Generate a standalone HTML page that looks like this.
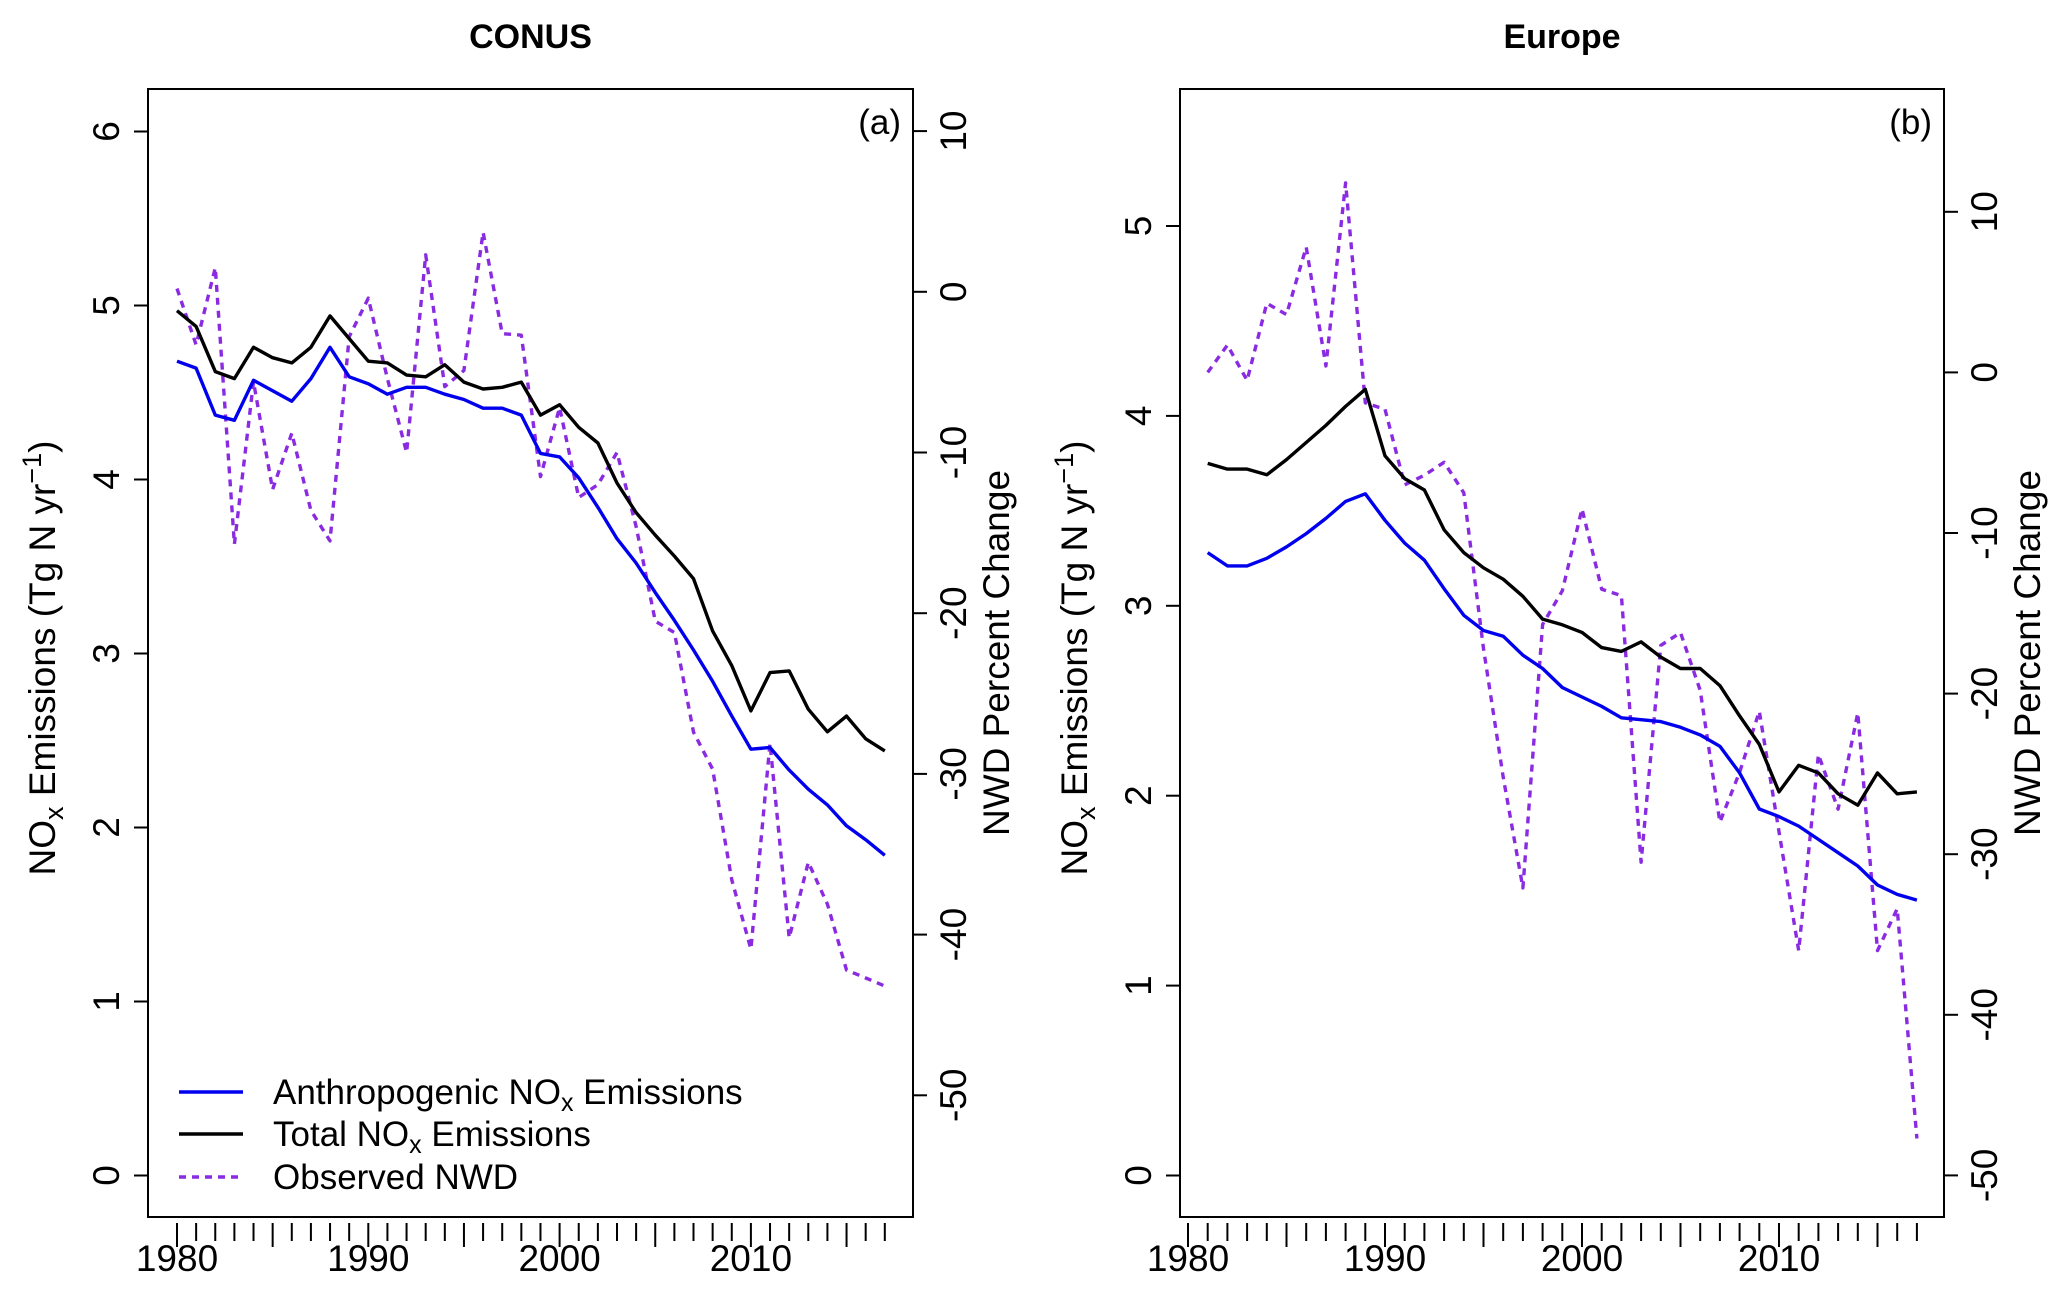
<!DOCTYPE html>
<html><head><meta charset="utf-8"><style>
body{margin:0;background:#fff}
svg text{font-family:"Liberation Sans",Arial,sans-serif;fill:#000}
</style></head><body>
<svg id="chart" width="2067" height="1289" xmlns="http://www.w3.org/2000/svg"></svg>
<script>
const conusYears=[1980,1981,1982,1983,1984,1985,1986,1987,1988,1989,1990,1991,1992,1993,1994,1995,1996,1997,1998,1999,2000,2001,2002,2003,2004,2005,2006,2007,2008,2009,2010,2011,2012,2013,2014,2015,2016,2017];
const conusAnthro=[4.68,4.64,4.37,4.34,4.57,4.51,4.45,4.58,4.76,4.59,4.55,4.49,4.53,4.53,4.49,4.46,4.41,4.41,4.37,4.15,4.13,4.01,3.84,3.66,3.52,3.35,3.19,3.02,2.84,2.64,2.45,2.46,2.33,2.22,2.13,2.01,1.93,1.84];
const conusTotal=[4.97,4.88,4.62,4.58,4.76,4.70,4.67,4.76,4.94,4.81,4.68,4.67,4.60,4.59,4.66,4.56,4.52,4.53,4.56,4.37,4.43,4.30,4.21,3.98,3.81,3.68,3.56,3.43,3.13,2.93,2.67,2.89,2.90,2.68,2.55,2.64,2.51,2.44];
const conusNWD=[0.2,-3.3,1.5,-15.7,-5.6,-12.3,-8.8,-13.6,-15.5,-2.8,-0.4,-5.4,-10,2.3,-5.9,-4.9,3.7,-2.6,-2.7,-11.5,-7.2,-12.8,-12,-10,-14.6,-20.5,-21.2,-27.4,-29.7,-36.6,-40.9,-28.1,-40.2,-35.5,-38.1,-42.2,-42.7,-43.2];
const euYears=[1981,1982,1983,1984,1985,1986,1987,1988,1989,1990,1991,1992,1993,1994,1995,1996,1997,1998,1999,2000,2001,2002,2003,2004,2005,2006,2007,2008,2009,2010,2011,2012,2013,2014,2015,2016,2017];
const euAnthro=[3.28,3.21,3.21,3.25,3.31,3.38,3.46,3.55,3.59,3.45,3.33,3.24,3.09,2.95,2.87,2.84,2.74,2.67,2.57,2.52,2.47,2.41,2.40,2.39,2.36,2.32,2.26,2.12,1.93,1.89,1.84,1.77,1.70,1.63,1.53,1.48,1.45];
const euTotal=[3.75,3.72,3.72,3.69,3.77,3.86,3.95,4.05,4.14,3.79,3.67,3.61,3.40,3.28,3.20,3.14,3.05,2.93,2.90,2.86,2.78,2.76,2.81,2.73,2.67,2.67,2.58,2.42,2.27,2.02,2.16,2.12,2.01,1.95,2.12,2.01,2.02];
const euNWD=[0,1.7,-0.5,4.3,3.6,7.8,0.4,11.8,-1.9,-2.3,-7,-6.4,-5.6,-7.5,-17.2,-25.2,-32.1,-15.7,-13.6,-8.5,-13.5,-13.9,-30.5,-17,-16.2,-19.8,-28,-24.9,-21.1,-28.6,-36,-23.8,-27.2,-21.2,-36,-33.4,-47.7];
const conusLeftTicks=[0,1,2,3,4,5,6];
const conusRightTicks=[-50,-40,-30,-20,-10,0,10];
const euLeftTicks=[0,1,2,3,4,5];
const euRightTicks=[-50,-40,-30,-20,-10,0,10];
const xTickLabels=[1980,1990,2000,2010];

const svg=document.getElementById('chart');
const NS='http://www.w3.org/2000/svg';
const BT=89,BB=1217;
function mk(tag,attrs,parent){const e=document.createElementNS(NS,tag);for(const k in attrs)e.setAttribute(k,attrs[k]);(parent||svg).appendChild(e);return e;}

function panel(p){
  const g=mk('g',{});
  
  
  const X=y=>p.x0+(y-1980)*p.xs;
  const YL=v=>p.yl0-v*p.yls;
  const YR=v=>p.yr0-v*p.yrs;
  const box=mk('rect',{x:p.bx,y:BT,width:p.bw,height:BB-BT,fill:'none',stroke:'#000','stroke-width':2},g);
  
  
  const t=mk('text',{x:p.bx+p.bw/2,y:48,'text-anchor':'middle','font-size':34,'font-weight':'bold'},g);t.textContent=p.title;
  
  
  const lab=mk('text',{x:p.bx+p.bw-12,y:134,'text-anchor':'end','font-size':35},g);lab.textContent=p.label;
  
  
  const la=mk('g',{},g);
  
  
  p.lt.forEach(v=>{const y=YL(v);mk('line',{x1:p.bx,x2:p.bx-14,y1:y,y2:y,stroke:'#000','stroke-width':2},la);
    const tx=mk('text',{x:0,y:0,'text-anchor':'middle','font-size':37,transform:`translate(${p.bx-29},${y}) rotate(-90)`},la);tx.textContent=v;});
  const lt=mk('text',{'text-anchor':'middle','font-size':37,transform:`translate(${p.bx-93},${(BT+BB)/2+5}) rotate(-90)`},la);
  lt.innerHTML='NO<tspan font-size="27" dy="8">x</tspan><tspan dy="-8"> Emissions (Tg N yr</tspan><tspan font-size="27" dy="-14">−1</tspan><tspan dy="14">)</tspan>';
  
  
  const ra=mk('g',{},g);
  
  
  const rx=p.bx+p.bw;
  p.rt.forEach(v=>{const y=YR(v);mk('line',{x1:rx,x2:rx+14,y1:y,y2:y,stroke:'#000','stroke-width':2},ra);
    const tx=mk('text',{'text-anchor':'middle','font-size':37,transform:`translate(${rx+53},${y}) rotate(-90)`},ra);tx.textContent=v;});
  const rt=mk('text',{'text-anchor':'middle','font-size':37,transform:`translate(${rx+96},${(BT+BB)/2}) rotate(-90)`},ra);rt.textContent='NWD Percent Change';
  
  
  const xa=mk('g',{},g);
  
  
  for(let yr=1980;yr<=2017;yr++){const x=X(yr);mk('line',{x1:x,x2:x,y1:BB+6,y2:yr%5===0?BB+30:BB+24,stroke:'#000','stroke-width':2},xa);}
  xTickLabels.forEach(v=>{const tx=mk('text',{x:X(v),y:1271,'text-anchor':'middle','font-size':37},xa);tx.textContent=v;});
  function line(years,vals,scale,color,dash,name){
    const pts=years.map((y,i)=>X(y).toFixed(1)+','+scale(vals[i]).toFixed(1)).join(' ');
    const pl=mk('polyline',{points:pts,fill:'none',stroke:color,'stroke-width':3.4,'stroke-linejoin':'round','stroke-dasharray':dash||'none'},g);
    
    
  }
  line(p.years,p.nwd,YR,'#8a2be2','7,6','observed-nwd-line');
  line(p.years,p.tot,YL,'#000',null,'total-nox-line');
  line(p.years,p.ant,YL,'#0000ee',null,'anthropogenic-nox-line');
}
panel({id:'conus',title:'CONUS',label:'(a)',bx:148,bw:765,x0:177,xs:19.13,yl0:1175.5,yls:174,yr0:291.8,yrs:16.07,lt:conusLeftTicks,rt:conusRightTicks,years:conusYears,ant:conusAnthro,tot:conusTotal,nwd:conusNWD});
panel({id:'europe',title:'Europe',label:'(b)',bx:1180,bw:764,x0:1188,xs:19.7,yl0:1175.5,yls:189.9,yr0:372.4,yrs:16.06,lt:euLeftTicks,rt:euRightTicks,years:euYears,ant:euAnthro,tot:euTotal,nwd:euNWD});

const lg=mk('g',{});


const legItems=[['#0000ee',null,'Anthropogenic NO','x',' Emissions',1092],['#000',null,'Total NO','x',' Emissions',1134],['#8a2be2','7,6','Observed NWD','','',1177]];
legItems.forEach(it=>{
  const e=mk('g',{},lg);
  
  
  mk('line',{x1:179,x2:243,y1:it[5],y2:it[5],stroke:it[0],'stroke-width':3.4,'stroke-dasharray':it[1]||'none'},e);
  const t=mk('text',{x:273,y:it[5]+12,'font-size':35},e);
  t.innerHTML=it[2]+(it[3]?'<tspan font-size="25" dy="7">'+it[3]+'</tspan><tspan dy="-7">'+it[4]+'</tspan>':'');
});
</script>
</body></html>
